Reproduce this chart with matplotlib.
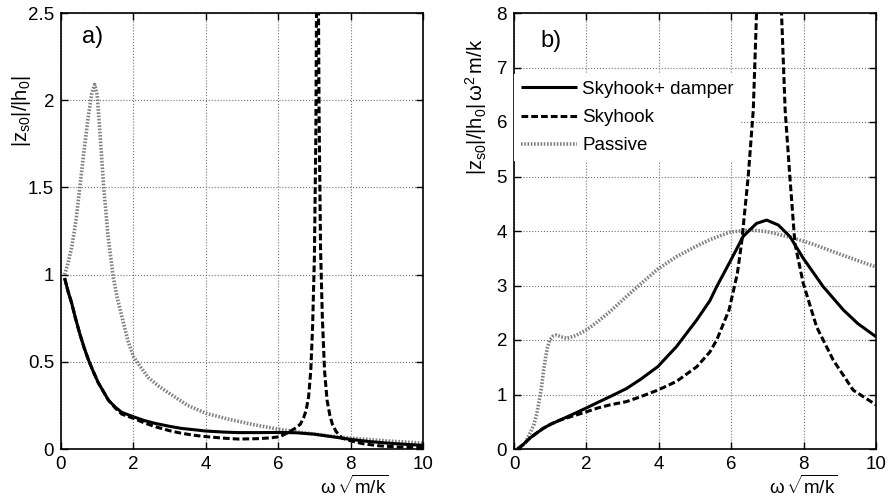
import matplotlib
matplotlib.use("Agg")
import matplotlib.pyplot as plt

plt.rcParams['font.family'] = ['Liberation Sans', 'DejaVu Sans']
plt.rcParams['mathtext.fontset'] = 'custom'
plt.rcParams['mathtext.rm'] = 'Liberation Sans'
plt.rcParams['mathtext.it'] = 'Liberation Sans'
plt.rcParams['mathtext.default'] = 'regular'

#---------------------------- a) |zs0|/|h0| ----------------------------#
w_a_passive = [0.1, 0.2, 0.3, 0.42, 0.52, 0.63, 0.75, 0.85, 0.93, 1.0, 1.08, 1.18, 1.3, 1.44,
               1.55, 1.68, 1.85, 2.0, 2.2, 2.41, 2.7, 3.06, 3.5, 4.0, 4.6, 5.36, 6.1, 7.0,
               8.0, 9.0, 10.0]
a_passive = [1.0, 1.07, 1.16, 1.32, 1.5, 1.7, 1.9, 2.04, 2.09, 2.03, 1.8, 1.5, 1.22, 0.99,
             0.87, 0.76, 0.62, 0.53, 0.47, 0.41, 0.36, 0.31, 0.25, 0.205, 0.172, 0.138, 0.11,
             0.085, 0.062, 0.046, 0.034]

w_a_sky_damp = [0.1, 0.2, 0.29, 0.4, 0.52, 0.64, 0.76, 0.9, 1.03, 1.17, 1.31, 1.5, 1.68, 2.0,
                2.3, 2.6, 3.0, 3.33, 3.7, 4.0, 4.5, 4.9, 5.4, 6.05, 6.5, 7.0, 7.5, 8.0, 8.5,
                9.0, 9.5, 10.0]
a_sky_damp = [0.98, 0.9, 0.84, 0.75, 0.66, 0.58, 0.51, 0.44, 0.38, 0.33, 0.28, 0.24, 0.21,
              0.185, 0.163, 0.147, 0.13, 0.118, 0.11, 0.103, 0.097, 0.094, 0.094, 0.095,
              0.093, 0.085, 0.07, 0.055, 0.043, 0.034, 0.027, 0.021]

w_a_sky = [0.1, 0.2, 0.29, 0.4, 0.52, 0.64, 0.76, 0.9, 1.03, 1.17, 1.31, 1.5, 1.68, 2.0, 2.3,
           2.6, 3.0, 3.33, 3.7, 4.0, 4.5, 4.9, 5.4, 5.8, 6.05, 6.29, 6.47, 6.61, 6.7, 6.77,
           6.84, 6.9, 6.95, 7.0, 7.04, 7.07, 7.1, 7.13, 7.17, 7.22, 7.28, 7.35, 7.43, 7.5,
           7.6, 7.76, 8.0, 8.35, 8.8, 9.3, 10.0]
a_sky = [0.98, 0.9, 0.84, 0.75, 0.66, 0.58, 0.51, 0.44, 0.38, 0.33, 0.28, 0.235, 0.2, 0.176,
         0.15, 0.128, 0.105, 0.09, 0.078, 0.071, 0.062, 0.057, 0.059, 0.064, 0.071, 0.096,
         0.119, 0.142, 0.178, 0.22, 0.3, 0.45, 0.7, 1.1, 1.8, 3.0, 3.0, 1.9, 1.15, 0.75,
         0.45, 0.28, 0.19, 0.14, 0.1, 0.063, 0.047, 0.03, 0.018, 0.012, 0.008]

#----------------------- b) |zs0|/|h0| w^2 m/k -------------------------#
w_b_passive = [0.1, 0.3, 0.44, 0.55, 0.63, 0.7, 0.76, 0.81, 0.86, 0.92, 0.99, 1.08, 1.18, 1.3,
               1.46, 1.7, 1.99, 2.3, 2.65, 3.11, 3.57, 3.97, 4.49, 5.0, 5.41, 5.97, 6.52,
               6.98, 7.72, 8.3, 8.82, 9.4, 10.0]
b_passive = [0.0, 0.1, 0.29, 0.45, 0.65, 0.9, 1.14, 1.4, 1.63, 1.85, 2.0, 2.07, 2.09, 2.06,
             2.03, 2.08, 2.18, 2.33, 2.52, 2.8, 3.07, 3.3, 3.53, 3.71, 3.84, 3.98, 4.02,
             3.99, 3.87, 3.75, 3.62, 3.48, 3.34]

w_b_sky_damp = [0.1, 0.25, 0.44, 0.6, 0.81, 1.0, 1.27, 1.6, 1.99, 2.3, 2.65, 3.11, 3.5, 3.97,
                4.49, 5.05, 5.41, 5.6, 5.97, 6.33, 6.7, 6.98, 7.3, 7.62, 7.99, 8.54, 9.1,
                9.5, 10.0]
b_sky_damp = [0.0, 0.08, 0.2, 0.28, 0.38, 0.45, 0.53, 0.63, 0.75, 0.85, 0.96, 1.11, 1.28,
              1.51, 1.88, 2.37, 2.72, 2.98, 3.44, 3.9, 4.14, 4.2, 4.11, 3.9, 3.5, 2.98,
              2.55, 2.3, 2.06]

w_b_sky = [0.1, 0.25, 0.44, 0.6, 0.81, 1.0, 1.27, 1.6, 1.99, 2.3, 2.65, 3.11, 3.5, 3.97, 4.49,
           5.05, 5.41, 5.6, 5.94, 6.17, 6.29, 6.47, 6.61, 6.7, 6.85, 7.0, 7.07, 7.14, 7.3,
           7.39, 7.49, 7.62, 7.76, 7.99, 8.36, 8.82, 9.37, 10.0]
b_sky = [0.0, 0.08, 0.2, 0.28, 0.38, 0.45, 0.53, 0.6, 0.68, 0.75, 0.81, 0.87, 0.96, 1.08,
         1.24, 1.51, 1.78, 2.0, 2.55, 3.22, 3.8, 5.0, 6.22, 8.0, 14.0, 55.0, 150.0, 55.0,
         12.0, 8.0, 6.22, 5.0, 3.77, 3.04, 2.24, 1.63, 1.08, 0.81]

x_ticks = [0, 2, 4, 6, 8, 10]
a_yticks = [0, 0.5, 1, 1.5, 2, 2.5]
a_ylabels = ['0', '0.5', '1', '1.5', '2', '2.5']
b_yticks = [0, 1, 2, 3, 4, 5, 6, 7, 8]

legend_names = ['Skyhook+ damper', 'Skyhook', 'Passive']

FS = 13.5
fig = plt.figure(figsize=(8.89, 5.0), dpi=100)
axA = fig.add_axes([61 / 889, 51 / 500, 362 / 889, 436 / 500])
axB = fig.add_axes([514 / 889, 51 / 500, 362 / 889, 436 / 500])


def draw_curves(ax, wp, yp, ws, ys, wd, yd):
    ax.plot(ws, ys, color='black', lw=2.2, solid_capstyle='butt', label=legend_names[0], zorder=3)
    ax.plot(wd, yd, color='black', lw=2.2, dashes=(2.2, 1.0), label=legend_names[1], zorder=3)
    ax.plot(wp, yp, color='0.5', lw=2.6, dashes=(0.45, 0.45), label=legend_names[2], zorder=2)


def style_axes(ax):
    ax.set_xlim(0, 10)
    ax.set_xticks(x_ticks)
    ax.grid(True, color='0.45', linestyle=':', linewidth=0.8)
    ax.tick_params(direction='in', top=True, right=True, length=5, width=1,
                   labelsize=FS, pad=5)
    for sp in ax.spines.values():
        sp.set_linewidth(1.2)
    ax.set_xlabel(r'$\omega\,\sqrt{m/k}$', fontsize=FS)


draw_curves(axA, w_a_passive, a_passive, w_a_sky_damp, a_sky_damp, w_a_sky, a_sky)
style_axes(axA)
axA.set_ylim(0, 2.5)
axA.set_yticks(a_yticks)
axA.set_yticklabels(a_ylabels)
axA.set_ylabel(r'$|z_{s0}|/|h_0|$', fontsize=FS + 1)
axA.yaxis.set_label_coords(-0.077, 0.775)
axA.xaxis.set_label_coords(0.81, -0.06)
axA.text(0.88, 2.36, 'a)', fontsize=17, ha='center', va='center')

draw_curves(axB, w_b_passive, b_passive, w_b_sky_damp, b_sky_damp, w_b_sky, b_sky)
style_axes(axB)
axB.set_ylim(0, 8)
axB.set_yticks(b_yticks)
axB.set_ylabel(r'$|z_{s0}|/|h_0|\,\omega^2\,m/k$', fontsize=FS + 1)
axB.yaxis.set_label_coords(-0.069, 0.785)
axB.xaxis.set_label_coords(0.80, -0.06)
axB.text(1.02, 7.49, 'b)', fontsize=17, ha='center', va='center')

leg = axB.legend(loc='upper left', bbox_to_anchor=(0.0, 0.86), borderaxespad=0,
                 fontsize=FS, handlelength=3.0, handletextpad=0.3, labelspacing=0.6,
                 borderpad=0.35, frameon=True, fancybox=False, framealpha=1)
leg.get_frame().set_edgecolor('none')
leg.get_frame().set_facecolor('white')

fig.savefig('out.png', dpi=100)
